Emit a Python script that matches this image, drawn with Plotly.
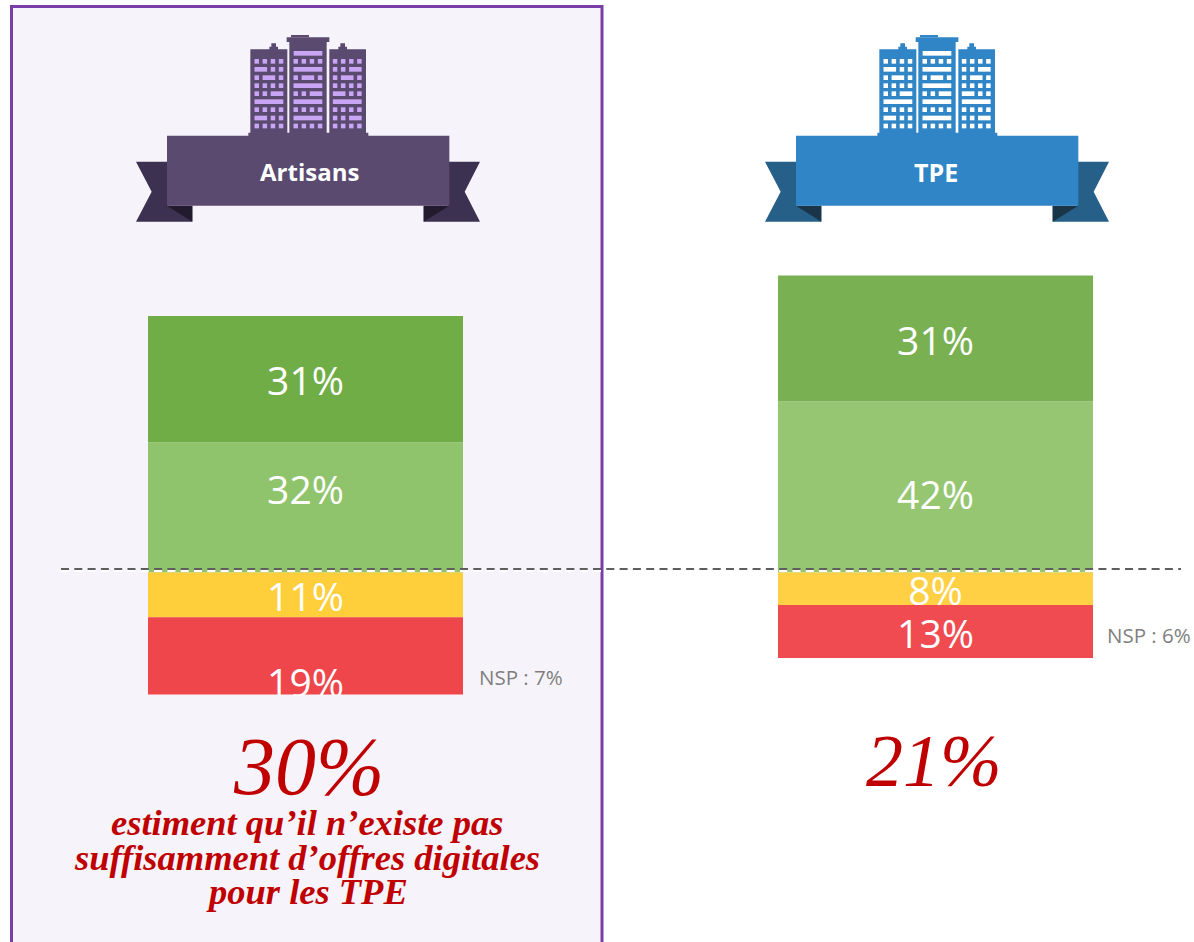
import plotly.graph_objects as go

categories = ["Artisans", "TPE"]
tres_bien = [31, 31]
plutot_bien = [32, 42]
plutot_pas = [11, 8]
pas_du_tout = [19, 13]
nsp = [7, 6]
headline = ["30%", "21%"]
caption = ["estiment qu’il n’existe pas", "suffisamment d’offres digitales", "pour les TPE"]

W, H = 1194, 942
PX = 4.07          # pixels per percentage point
ZERO = 572.5       # pixel row of the zero line
C0, PITCH = 305.5, 630

def fx(p): return p / W
def fy(p): return 1 - p / H

fig = go.Figure()
series = [
    ("Plutôt bien", plutot_bien, 1, ["#8FC46C", "#96C672"]),
    ("Très bien", tres_bien, 1, ["#70AD47", "#78B052"]),
    ("Plutôt pas", plutot_pas, -1, ["#FFCE3B", "#FFD044"]),
    ("Pas du tout", pas_du_tout, -1, ["#EF464B", "#EF4B50"]),
]
for name, vals, sign, cols in series:
    fig.add_bar(x=categories, y=[sign * v for v in vals], name=name, width=0.5,
                marker=dict(color=cols, line_width=0), showlegend=False, hoverinfo="skip")

# value labels: centre of each segment plus the small shift seen in the source
label_x, label_y, label_t = [], [], []
shift = {"Plutôt bien": [3.3, -3.1], "Très bien": [-1.5, -1.7], "Plutôt pas": [-1.6, -1.6], "Pas du tout": [-7.6, -1.6]}
for i, c in enumerate(categories):
    pos = plutot_bien[i]
    neg = plutot_pas[i]
    rows = [
        ("Plutôt bien", plutot_bien[i] / 2),
        ("Très bien", pos + tres_bien[i] / 2),
        ("Plutôt pas", -plutot_pas[i] / 2),
        ("Pas du tout", -(neg + pas_du_tout[i] / 2)),
    ]
    vals = {"Plutôt bien": plutot_bien[i], "Très bien": tres_bien[i], "Plutôt pas": plutot_pas[i], "Pas du tout": pas_du_tout[i]}
    for n, y in rows:
        label_x.append(c)
        label_y.append(y + shift[n][i])
        label_t.append(f"{vals[n]}%")
fig.add_scatter(x=label_x, y=label_y, text=label_t, mode="text", showlegend=False, hoverinfo="skip",
                textposition="middle center", cliponaxis=False,
                textfont=dict(family="Open Sans", size=39, color="white"))

shapes = []
def rect(x0, y0, x1, y1, color, layer="above"):
    shapes.append(dict(type="rect", xref="paper", yref="paper", x0=fx(x0), x1=fx(x1), y0=fy(y0), y1=fy(y1),
                       fillcolor=color, line_width=0, layer=layer))
def poly(pts, color, layer="above"):
    path = "M" + " L".join(f"{fx(a):.5f},{fy(b):.5f}" for a, b in pts) + " Z"
    shapes.append(dict(type="path", xref="paper", yref="paper", path=path, fillcolor=color, line_width=0, layer=layer))

PANEL = "#F6F4FA"
# highlighted panel
shapes.append(dict(type="rect", xref="paper", yref="paper", x0=fx(11.5), x1=fx(602), y0=fy(6.5), y1=fy(960),
                   fillcolor=PANEL, line=dict(color="#7A3EA8", width=3), layer="below"))
# source crop of the 19% label
rect(148, 695.5, 463, 712, PANEL)

ROWS = [124, 148, 173, 197, 221, 245, 269, 294, 318]
LEFT = ["oooo", "bboo", "obbo", "oooo", "oobb", "bbbb", "oooo", "bboo", "oooo"]
MID = ["oooo", "bbbb", "obbo", "bbbb", "oobb", "bbbb", "oooo", "bbbb", "oooo"]
RIGHT = ["oooo", "oobb", "obbo", "oooo", "bboo", "bbbb", "oooo", "oobb", "oooo"]

def zx(v): return 130 + v / 3
def zy(v): return 20 + v / 3

def windows(pattern, x_start, dx, col):
    for r, row in zip(ROWS, pattern):
        j = 0
        while j < 4:
            run = 1
            if row[j] == "b":
                run = 4 if row == "bbbb" else 2
            x0 = x_start + j * 24.3
            x1 = x0 + 13 + (run - 1) * 24.3
            rect(zx(x0 - 0.5) + dx, zy(r - 7), zx(x1) + dx, zy(r + 7), col)
            j += run

def building_block(dx, body, tail, fold, win):
    # buildings
    poly([(zx(a) + dx, zy(b)) for a, b in [
        (361, 88), (418, 88), (418, 80), (424, 80), (424, 70), (438, 70), (438, 80), (444, 80), (444, 88), (472, 88),
        (472, 340), (361, 340)]], body)
    poly([(zx(a) + dx, zy(b)) for a, b in [
        (598, 88), (625, 88), (625, 80), (631, 80), (631, 70), (645, 70), (645, 80), (651, 80), (651, 88), (708, 88),
        (708, 340), (598, 340)]], body)
    rect(zx(478) + dx, zy(66), zx(590) + dx, zy(340), body)
    rect(zx(470) + dx, zy(52), zx(598) + dx, zy(66), body)
    rect(zx(483) + dx, zy(45), zx(537) + dx, zy(52), body)
    rect(zx(355) + dx, zy(338), zx(715) + dx, zy(350), body)
    windows(LEFT, 374, dx, win)
    windows(MID, 491, dx, win)
    windows(RIGHT, 609, dx, win)
    rect(zx(491) + dx, zy(93), zx(577) + dx, zy(107), win)
    # ribbon
    poly([(zx(a) + dx, zy(b)) for a, b in [(18, 425), (115, 425), (115, 557), (187, 557), (187, 605), (18, 605), (65, 515)]], tail)
    poly([(zx(a) + dx, zy(b)) for a, b in [(1050, 425), (954, 425), (954, 557), (881, 557), (881, 605), (1050, 605), (1004, 515)]], tail)
    poly([(zx(a) + dx, zy(b)) for a, b in [(111, 557), (187, 557), (187, 605)]], fold)
    poly([(zx(a) + dx, zy(b)) for a, b in [(958, 557), (881, 557), (881, 605)]], fold)
    rect(zx(111) + dx, zy(347), zx(958) + dx, zy(557), body)

building_block(0, "#5B4A6F", "#3C3150", "#221B2E", "#C9A6F5")
building_block(629, "#3085C6", "#266088", "#1A3547", "#FFFFFF")

# dashed separator with its pale underline
shapes.append(dict(type="line", xref="paper", yref="paper", x0=fx(61), x1=fx(1181), y0=fy(570.9), y1=fy(570.9),
                   line=dict(color="white", width=2, dash="8px,5.3px")))
shapes.append(dict(type="line", xref="paper", yref="paper", x0=fx(61), x1=fx(1181), y0=fy(569), y1=fy(569),
                   line=dict(color="#5E5E5E", width=2, dash="8px,5.3px")))

def note(px, py, text, size, color, family, **kw):
    return dict(xref="paper", yref="paper", x=fx(px), y=fy(py), text=text, showarrow=False, xanchor="center",
                yanchor="middle", font=dict(size=size, color=color, family=family), **kw)

ann = [
    note(309.5, 171.5, f"<b>{categories[0]}</b>", 24, "white", "Open Sans"),
    note(936, 171.5, f"<b>{categories[1]}</b>", 25, "white", "Open Sans"),
    note(520.5, 677, f"NSP : {nsp[0]}%", 20.5, "#7F7F7F", "Open Sans"),
    note(1149, 635, f"NSP : {nsp[1]}%", 20.5, "#7F7F7F", "Open Sans"),
    note(308, 766, f"<i>{headline[0]}</i>", 82, "#C00000", "Liberation Serif"),
    note(934, 761, f"<i>{headline[1]}</i>", 74, "#C00000", "Liberation Serif"),
]
for py, t in zip([822, 857, 891], caption):
    ann.append(note(306.5, py, f"<b><i>{t}</i></b>", 36.5, "#C00000", "Liberation Serif"))

fig.update_layout(
    width=W, height=H, margin=dict(l=0, r=0, t=0, b=0), barmode="relative",
    paper_bgcolor="white", plot_bgcolor="white", showlegend=False,
    xaxis=dict(type="category", categoryorder="array", categoryarray=categories, visible=False,
               range=[-C0 / PITCH, (W - C0) / PITCH], fixedrange=True),
    yaxis=dict(visible=False, range=[(ZERO - H) / PX, ZERO / PX], fixedrange=True),
    shapes=shapes, annotations=ann,
)
fig.write_html("out.html", config={"displayModeBar": False}, default_height=H, default_width=W,
               post_script="document.body.style.margin='0';document.documentElement.style.overflow='hidden';")
